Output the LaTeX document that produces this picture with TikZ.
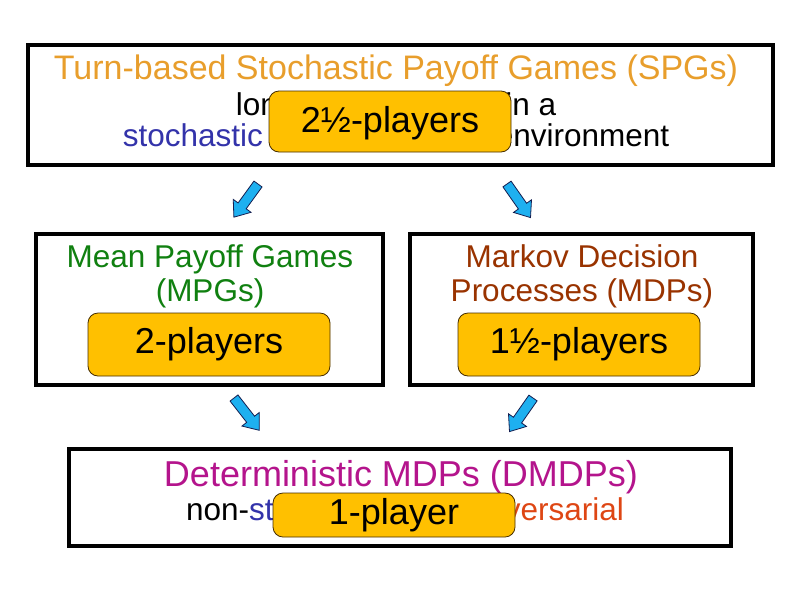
\documentclass[tikz,border=0pt]{standalone}
\usepackage{fontspec}
\setmainfont{Liberation Sans}
\definecolor{ctitle}{RGB}{232,158,44}
\definecolor{cblue}{RGB}{51,51,170}
\definecolor{cgreen}{RGB}{16,128,16}
\definecolor{cbrown}{RGB}{153,51,0}
\definecolor{cmag}{RGB}{180,20,140}
\definecolor{cred}{RGB}{222,70,20}
\definecolor{pillfill}{RGB}{255,192,0}
\definecolor{pillline}{RGB}{70,45,0}
\definecolor{arrfill}{RGB}{30,176,240}
\definecolor{arrline}{RGB}{20,30,80}
\begin{document}
\begin{tikzpicture}[x=1pt,y=-1pt,
  frame/.style={draw=black, line width=3.5pt, inner sep=0pt},
  pill/.style={draw=pillline, fill=pillfill, line width=0.8pt, rounded corners=10pt, minimum width=242pt, inner sep=0pt},
  titletext/.style={font=\fontsize{34}{38}\selectfont, anchor=base, inner sep=0pt},
  bodytext/.style={font=\fontsize{31.5}{36}\selectfont, anchor=base, inner sep=0pt},
  bigtext/.style={font=\fontsize{36}{40}\selectfont, anchor=base, inner sep=0pt},
  arrowline/.style={draw=arrline, fill=arrfill, line width=0.8pt, line join=miter},
  barrow/.pic={\path[arrowline] (0,-5) -- (27,-5) -- (27,-11) -- (41,0) -- (27,11) -- (27,5) -- (0,5) -- cycle;}
]
\useasboundingbox (0,0) rectangle (794,595);

% frames
\node[frame, minimum width=745pt, minimum height=120pt] (spg) at (400.5,105) {};
\node[frame, minimum width=347pt, minimum height=151pt] (mpg) at (209.5,309.5) {};
\node[frame, minimum width=343pt, minimum height=151pt] (mdp) at (581.5,309.5) {};
\node[frame, minimum width=662pt, minimum height=97pt] (dmdp) at (400,497.5) {};

% top box text
\node[titletext, text=ctitle] (spgT) at (396,79) {Turn-based Stochastic Payoff Games (SPGs)};
\node[bodytext] (spgL1) at (396,115) {long-term planning in a};
\node[bodytext] (spgL2) at (396,146) {\textcolor{cblue}{stochastic} and \textcolor{cred}{adversarial} environment};

% middle texts
\node[bodytext, text=cgreen] (mpgT1) at (210,267) {Mean Payoff Games};
\node[bodytext, text=cgreen] (mpgT2) at (210,301) {(MPGs)};
\node[bodytext, text=cbrown] (mdpT1) at (582,267) {Markov Decision};
\node[bodytext, text=cbrown] (mdpT2) at (582,301) {Processes (MDPs)};

% bottom texts
\node[bigtext, text=cmag] (dmdpT) at (401,486) {Deterministic MDPs (DMDPs)};
\node[bodytext] (dmdpL) at (405,520) {non-\textcolor{cblue}{stochastic}, non-\textcolor{cred}{adversarial}};

% pills
\node[pill, minimum height=61pt] (p1) at (390,121.5) {};
\node[bigtext] (p1t) at (390,132) {2½-players};
\node[pill, minimum height=63pt] (p2) at (209,344.5) {};
\node[bigtext] (p2t) at (209,353) {2-players};
\node[pill, minimum height=63pt] (p3) at (579,344.5) {};
\node[bigtext] (p3t) at (579,353) {1½-players};
\node[pill, minimum height=44pt] (p4) at (394,515) {};
\node[bigtext] (p4t) at (394,524) {1-player};

% block arrows
\coordinate (a1) at (258,184);
\coordinate (a2) at (507,184);
\coordinate (a3) at (234,398);
\coordinate (a4) at (533,398);
\pic[rotate=-126] at (a1) {barrow};
\pic[rotate=-55] at (a2) {barrow};
\pic[rotate=-52] at (a3) {barrow};
\pic[rotate=-125] at (a4) {barrow};
\end{tikzpicture}
\end{document}
